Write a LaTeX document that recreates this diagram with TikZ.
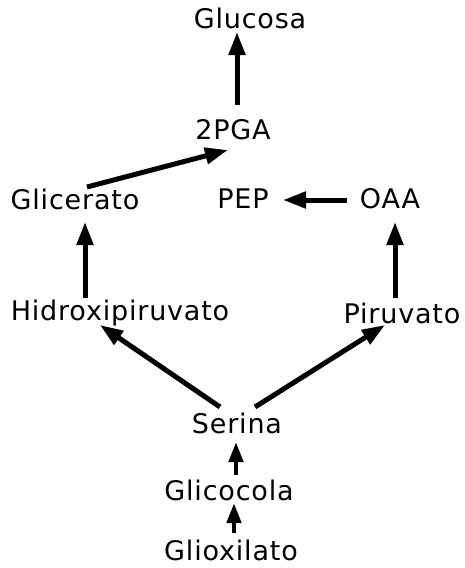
\documentclass[tikz,border=0pt]{standalone}
\usepackage{fontspec}
\setmainfont{DejaVu Sans}[LetterSpace=3]
\usetikzlibrary{arrows.meta,calc}
\begin{document}
\begin{tikzpicture}[x=1pt,y=-1pt,
  lab/.style={font=\fontsize{27}{30}\selectfont, inner sep=0pt},
  arr/.style={line width=5pt, -{Triangle[width=16pt,length=23pt]}},
  sarr/.style={line width=4.5pt, -{Triangle[width=14pt,length=20pt]}}]
\useasboundingbox (0,0) rectangle (465,568);
\node[lab] (glucosa) at (250,18) {Glucosa};
\node[lab] (pga) at (233,130) {2PGA};
\node[lab] (glicerato) at (75,199) {Glicerato};
\node[lab] (pep) at (243,199) {PEP};
\node[lab] (oaa) at (390,199) {OAA};
\node[lab] (hidroxi) at (120,313) {Hidroxipiruvato};
\node[lab] (piruvato) at (402,313) {Piruvato};
\node[lab] (serina) at (237,423) {Serina};
\node[lab] (glicocola) at (229,490) {Glicocola};
\node[lab] (glioxilato) at (231,550) {Glioxilato};
\draw[arr] ($(pga)+(4,-25)$) -- ($(glucosa)+(-13,14)$);
\draw[arr] ($(glicerato)+(12,-12)$) -- ($(pga)+(-5,20)$);
\draw[arr] ($(oaa)+(-43,1)$) -- ($(pep)+(40,1)$);
\draw[arr] ($(hidroxi)+(-35,-15)$) -- ($(glicerato)+(10,23)$);
\draw[arr] ($(piruvato)+(-7,-15)$) -- ($(oaa)+(5,23)$);
\draw[arr] ($(serina)+(-17,-16)$) -- ($(hidroxi)+(-20,12)$);
\draw[arr] ($(serina)+(18,-16)$) -- ($(piruvato)+(-17,12)$);
\draw[sarr] ($(glicocola)+(7,-15)$) -- ($(serina)+(-1,19)$);
\draw[sarr] ($(glioxilato)+(3,-17)$) -- ($(glicocola)+(5,13)$);
\end{tikzpicture}
\end{document}
